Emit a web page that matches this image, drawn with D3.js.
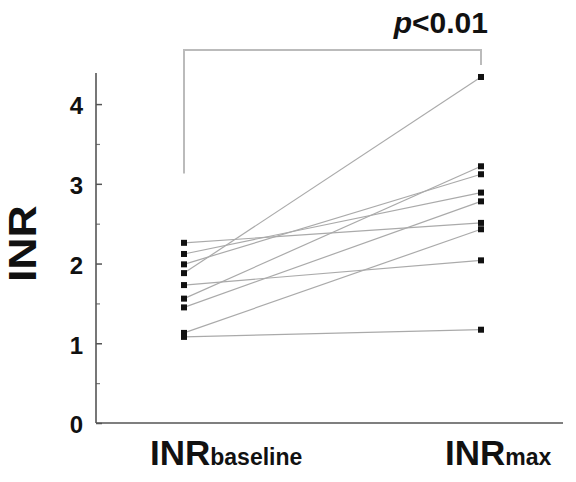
<!DOCTYPE html>
<html>
<head>
<meta charset="utf-8">
<script src="https://cdn.jsdelivr.net/npm/d3@7"></script>
<style>
  html, body { margin: 0; padding: 0; background: #fff; }
  svg { display: block; font-family: "Liberation Sans", Arial, sans-serif; }
</style>
</head>
<body>
<svg id="chart" width="576" height="482"></svg>
<script>
const categories = ["baseline", "max"];
const inrBaseline = [2.26, 2.12, 1.99, 1.88, 1.73, 1.56, 1.45, 1.13, 1.08];
const inrMax      = [2.51, 2.89, 3.12, 4.34, 2.04, 3.22, 2.78, 2.43, 1.17];
const yTicks = [0, 1, 2, 3, 4];
const yMinorTicks = [0.5, 1.5, 2.5, 3.5];
const pLabel = "<0.01";

const svg = d3.select("#chart");
const y = d3.scaleLinear().domain([0, 4.39]).range([423, 73]);
const x = d3.scalePoint().domain(categories).range([184, 481]);
const axisX0 = 96, axisX1 = 563;

// y axis
const yAxis = d3.axisRight(y).tickValues(yTicks).tickSize(6).tickFormat("");
const gy = svg.append("g").attr("transform", `translate(${axisX0},0)`).call(yAxis);
gy.select(".domain").remove();
gy.selectAll(".tick line").attr("stroke", "#555").attr("stroke-width", 1.5);
const gyMinor = svg.append("g").attr("transform", `translate(${axisX0},0)`)
  .call(d3.axisRight(y).tickValues(yMinorTicks).tickSize(4).tickFormat(""));
gyMinor.select(".domain").remove();
gyMinor.selectAll(".tick line").attr("stroke", "#777").attr("stroke-width", 1.2);

svg.append("line").attr("x1", axisX0).attr("x2", axisX0)
  .attr("y1", y.range()[1]).attr("y2", y(0))
  .attr("stroke", "#555").attr("stroke-width", 1.6);
svg.append("line").attr("x1", axisX0).attr("x2", axisX1)
  .attr("y1", y(0)).attr("y2", y(0))
  .attr("stroke", "#555").attr("stroke-width", 1.6);

svg.append("g").selectAll("text").data(yTicks).join("text")
  .attr("x", axisX0 - 13).attr("y", d => y(d) + 4)
  .attr("text-anchor", "end").attr("dominant-baseline", "middle")
  .attr("font-size", 24).attr("font-weight", "bold").attr("fill", "#111")
  .text(d => d);

// y label
svg.append("text")
  .attr("transform", `translate(36,${y(2.25)}) rotate(-90)`)
  .attr("text-anchor", "middle")
  .attr("font-size", 38).attr("font-weight", "bold").attr("fill", "#111")
  .attr("textLength", 77).attr("lengthAdjust", "spacingAndGlyphs")
  .text("INR");

// x labels
const xLabelOffsets = { baseline: -34, max: -36 };
categories.forEach(c => {
  const t = svg.append("text")
    .attr("x", x(c) + xLabelOffsets[c]).attr("y", 465)
    .attr("font-weight", "bold").attr("fill", "#111");
  t.append("tspan").attr("font-size", 35).text("INR");
  t.append("tspan").attr("font-size", 23).text(c);
});

// connecting lines
const pairs = inrBaseline.map((b, i) => ({ b, m: inrMax[i] }));
svg.append("g").selectAll("line").data(pairs).join("line")
  .attr("x1", x("baseline")).attr("y1", d => y(d.b))
  .attr("x2", x("max")).attr("y2", d => y(d.m))
  .attr("stroke", "#aaa").attr("stroke-width", 1.2);

// points
const sz = 6;
svg.append("g").selectAll("rect").data(inrBaseline).join("rect")
  .attr("x", x("baseline") - sz / 2).attr("y", d => y(d) - sz / 2)
  .attr("width", sz).attr("height", sz).attr("fill", "#111");
svg.append("g").selectAll("rect").data(inrMax).join("rect")
  .attr("x", x("max") - sz / 2).attr("y", d => y(d) - sz / 2)
  .attr("width", sz).attr("height", sz).attr("fill", "#111");

// significance bracket
const bracketTop = 4.68, bracketLeft = 3.13, bracketRight = 4.49;
svg.append("path")
  .attr("d", `M${x("baseline")},${y(bracketLeft)} V${y(bracketTop)} H${x("max")} V${y(bracketRight)}`)
  .attr("fill", "none").attr("stroke", "#bbb").attr("stroke-width", 2);

const pt = svg.append("text")
  .attr("x", x("max") + 7).attr("y", 33)
  .attr("text-anchor", "end")
  .attr("font-size", 30).attr("font-weight", "bold").attr("fill", "#111");
pt.append("tspan").attr("font-style", "italic").text("p");
pt.append("tspan").text(pLabel);
</script>
</body>
</html>
